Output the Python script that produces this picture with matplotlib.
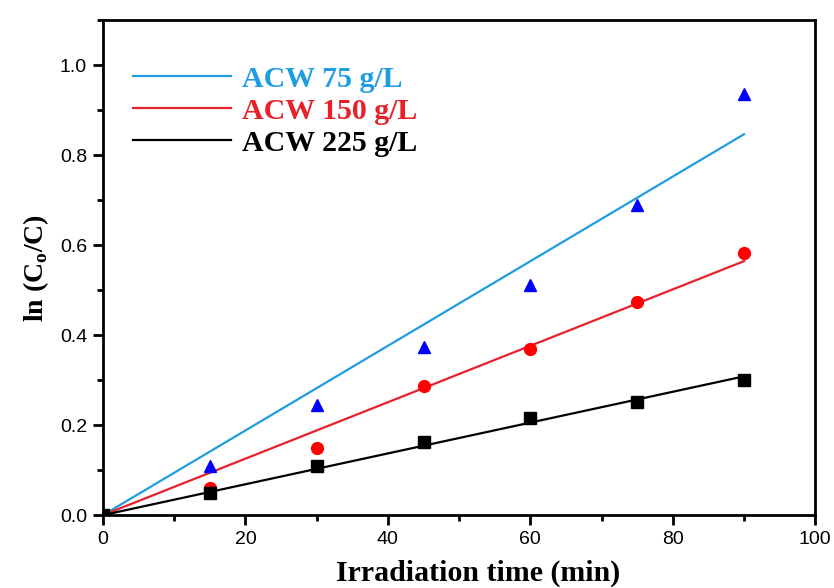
import numpy as np
import matplotlib
matplotlib.use("Agg")
import matplotlib.pyplot as plt
from matplotlib.ticker import MultipleLocator

# irradiation time (min) and ln(Co/C) for each dose
time = np.array([0, 15, 30, 45, 60, 75, 90])
acw75 = np.array([0.0, 0.11, 0.245, 0.373, 0.512, 0.69, 0.936])
acw150 = np.array([0.0, 0.06, 0.15, 0.286, 0.369, 0.473, 0.583])
acw225 = np.array([0.0, 0.048, 0.108, 0.162, 0.216, 0.251, 0.301])

labels = ["ACW 75 g/L", "ACW 150 g/L", "ACW 225 g/L"]
series = [acw75, acw150, acw225]
line_colors = ["#1f9de0", "#e8202a", "#000000"]
marker_colors = ["#0000ff", "#ff0000", "#000000"]
markers = ["^", "o", "s"]


def fit_origin(x, y):
    # first-order kinetics: least squares slope through the origin
    return np.sum(x * y) / np.sum(x * x)


plt.rcParams["mathtext.fontset"] = "custom"
plt.rcParams["mathtext.rm"] = "Liberation Serif"
plt.rcParams["mathtext.bf"] = "Liberation Serif:bold"

fig = plt.figure(figsize=(8.34, 5.88), dpi=100)
ax = fig.add_axes([0.1235, 0.124, 0.854, 0.842])

handles = []
for y, lab, lc, mc, mk in zip(series, labels, line_colors, marker_colors, markers):
    k = fit_origin(time, y)
    h, = ax.plot(time, k * time, color=lc, lw=1.6, zorder=2, label=lab)
    ax.plot(time, y, linestyle="none", marker=mk, ms=8.5, color=mc,
            markeredgecolor=mc, zorder=3)
    handles.append(h)

ax.set_xlim(0, 100)
ax.set_ylim(0, 1.1)
ax.xaxis.set_major_locator(MultipleLocator(20))
ax.xaxis.set_minor_locator(MultipleLocator(10))
ax.yaxis.set_minor_locator(MultipleLocator(0.1))
ax.set_yticks(np.arange(0, 1.01, 0.2))
ax.set_yticklabels(["%.1f" % v for v in np.arange(0, 1.01, 0.2)])

for s in ax.spines.values():
    s.set_linewidth(2)
ax.tick_params(which="major", direction="out", length=7.5, width=2,
               labelsize=14, pad=4)
ax.tick_params(which="minor", direction="out", length=4, width=2)
for t in ax.get_xticklabels() + ax.get_yticklabels():
    t.set_family("Liberation Sans")

ax.set_xlabel("Irradiation time (min)", family="Liberation Serif",
              fontweight="bold", fontsize=21.5)
ax.xaxis.set_label_coords(0.527, -0.09)
ax.set_ylabel(r"ln (C$_\mathbf{o}$/C)", family="Liberation Serif",
              fontweight="bold", fontsize=20, labelpad=6)

leg = ax.legend(handles=handles, loc="upper left", bbox_to_anchor=(0.004, 0.962),
                frameon=False, handlelength=3.3, handletextpad=0.35,
                labelspacing=0.17, prop={"family": "Liberation Serif",
                                         "weight": "bold", "size": 21.5})
for txt, c in zip(leg.get_texts(), line_colors):
    txt.set_color(c)

fig.savefig("out.png", dpi=100)
